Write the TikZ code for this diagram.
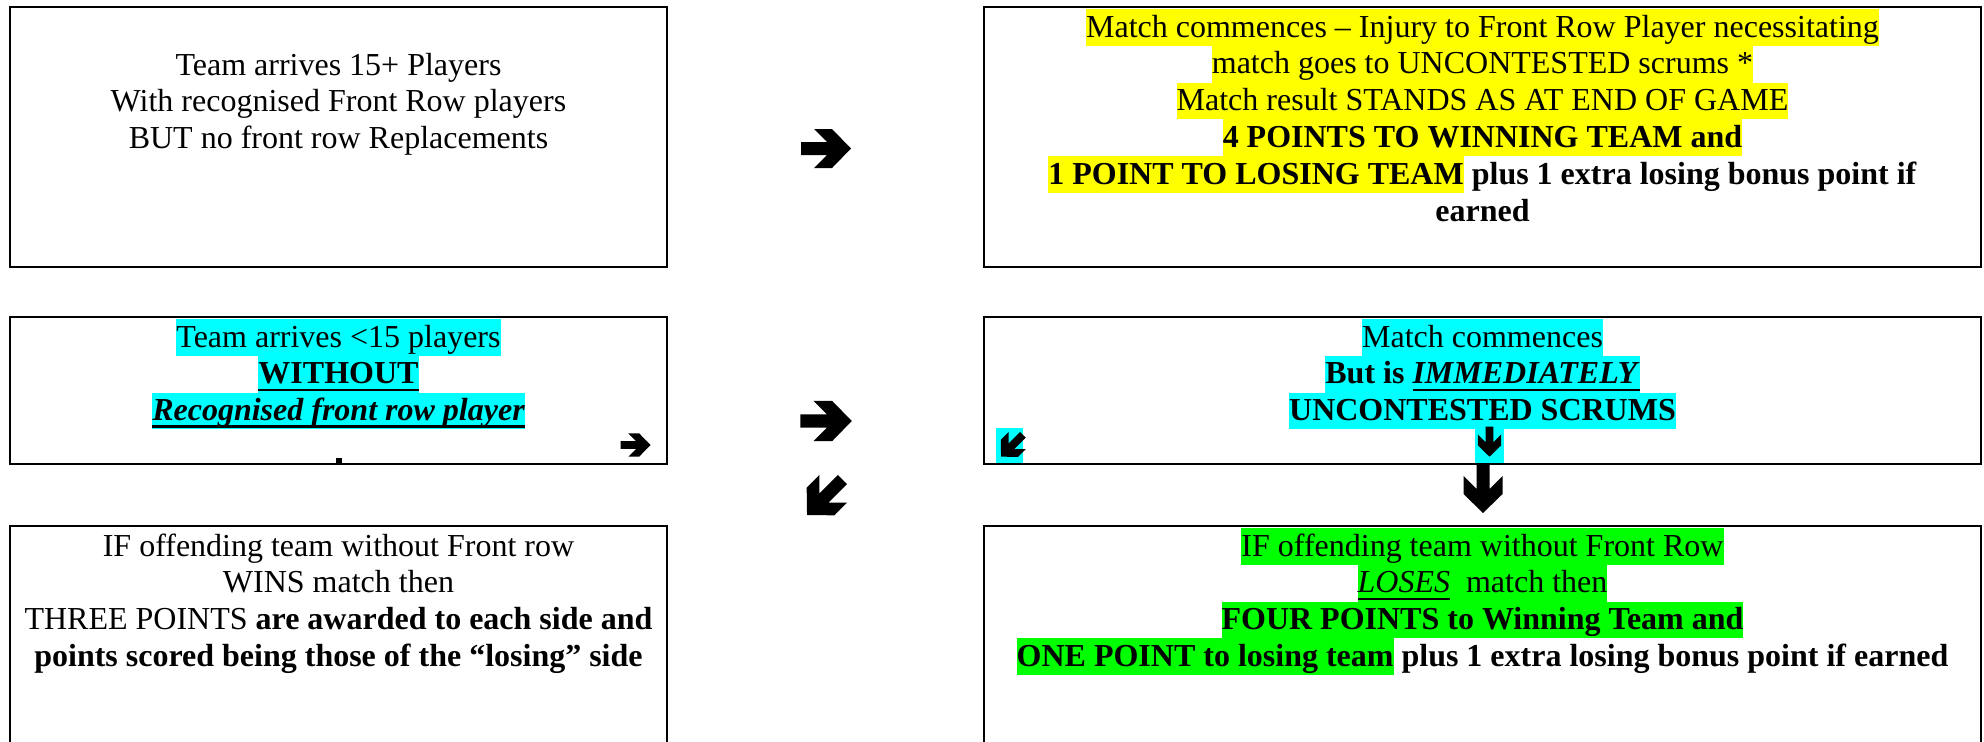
\documentclass[tikz,border=0pt]{standalone}
\usepackage{fontspec}
\setmainfont{Liberation Serif}
\usepackage{xcolor}
\definecolor{hlyellow}{RGB}{255,255,0}
\definecolor{hlcyan}{RGB}{0,255,255}
\definecolor{hlgreen}{RGB}{0,255,0}
\newcommand{\hlstrut}{\rule[-3.3pt]{0pt}{13.8pt}}
\newcommand{\hl}[2]{{\setlength{\fboxsep}{0pt}\colorbox{#1}{\hlstrut#2}}}
\newcommand{\uln}[1]{\setbox0\hbox{#1}\rlap{\rule[-2.7pt]{\wd0}{0.9pt}}\box0}

\begin{document}
\begin{tikzpicture} [x=0.375pt,y=-0.375pt,line width=0.75pt,
    frame/.style={draw,rectangle,inner sep=0pt},
    txt/.style={anchor=north,align=center,inner sep=0pt,font=\fontsize{12pt}{13.8pt}\selectfont},
    wing/.pic={\fill (-25,6.5) -- (1,6.5) -- (-12,19.5) -- (6,19.5) -- (25,0) -- (6,-19.5) -- (-12,-19.5) -- (1,-6.5) -- (-25,-6.5) -- cycle;}]

  \useasboundingbox (0,0) rectangle (1984,741);
  \clip (0,0) rectangle (1984,741);

  \fill[hlcyan] (996,428) rectangle (1023,463);
  \fill[hlcyan] (1475,427) rectangle (1504,463);

  \node[frame] (full) at (338.5,137) [minimum width=246.4pt,minimum height=97.5pt] {};
  \node[frame] (injury) at (1482.5,137) [minimum width=373.9pt,minimum height=97.5pt] {};
  \node[frame] (short) at (338.5,390.5) [minimum width=246.4pt,minimum height=55.1pt] {};
  \node[frame] (commence) at (1482.5,390.5) [minimum width=373.9pt,minimum height=55.1pt] {};
  \node[frame] (wins) at (338.5,656) [minimum width=246.4pt,minimum height=97.5pt] {};
  \node[frame] (loses) at (1482.5,656) [minimum width=373.9pt,minimum height=97.5pt] {};

  \node[txt] (fulltxt) at (338.5,46) {\hlstrut Team arrives 15+ Players\\
    With recognised Front Row players\\ BUT no front row Replacements};

  \node[txt] (injurytxt) at (1482.5,8) {%
    \hl{hlyellow}{Match commences -- Injury to Front Row Player necessitating}\\
    \hl{hlyellow}{match goes to UNCONTESTED scrums *}\\
    \hl{hlyellow}{Match result STANDS AS AT END OF GAME}\\
    \hl{hlyellow}{\textbf{4 POINTS TO WINNING TEAM and}}\\
    \hl{hlyellow}{\textbf{1 POINT TO LOSING TEAM}}\textbf{ plus 1 extra losing bonus point if}\\
    \hlstrut\textbf{earned}};

  \node[txt] (shorttxt) at (338.5,318) {%
    \hl{hlcyan}{Team arrives <15 players}\\
    \hl{hlcyan}{\textbf{\uln{WITHOUT}}}\\
    \hl{hlcyan}{\textbf{\textit{\uln{Recognised front row player}}}}};

  \node[txt] (commencetxt) at (1482.5,318) {%
    \hl{hlcyan}{Match commences}\\
    \hl{hlcyan}{\textbf{But is \uln{\textit{IMMEDIATELY}}}}\\
    \hl{hlcyan}{\textbf{UNCONTESTED SCRUMS}}};

  \node[txt] (winstxt) at (338.5,527) {\hlstrut IF offending team without Front row\\
    WINS match then\\
    THREE POINTS \textbf{are awarded to each side and}\\
    \textbf{points scored being those of the “losing” side}};

  \node[txt] (losestxt) at (1482.5,527) {%
    \hl{hlgreen}{IF offending team without Front Row}\\
    \hl{hlgreen}{\uln{\textit{LOSES}}\ \ match then}\\
    \hl{hlgreen}{\textbf{FOUR POINTS to Winning Team and}}\\
    \hl{hlgreen}{\textbf{ONE POINT to losing team}}\textbf{ plus 1 extra losing bonus point if earned}};

  \fill (336,458) rectangle (342,464);

  \pic at (826,148.5) {wing};
  \pic[scale=1.03] at (826,421) {wing};
  \pic[rotate=-135] at (824.7,497.3) {wing};
  \pic[rotate=-90] at (1483,488) {wing};
  \pic[scale=0.6] at (635.5,445) {wing};
  \pic[scale=0.62,rotate=-135] at (1012,445.7) {wing};
  \pic[scale=0.6,rotate=-90] at (1489.5,441.7) {wing};

\end{tikzpicture}
\end{document}
